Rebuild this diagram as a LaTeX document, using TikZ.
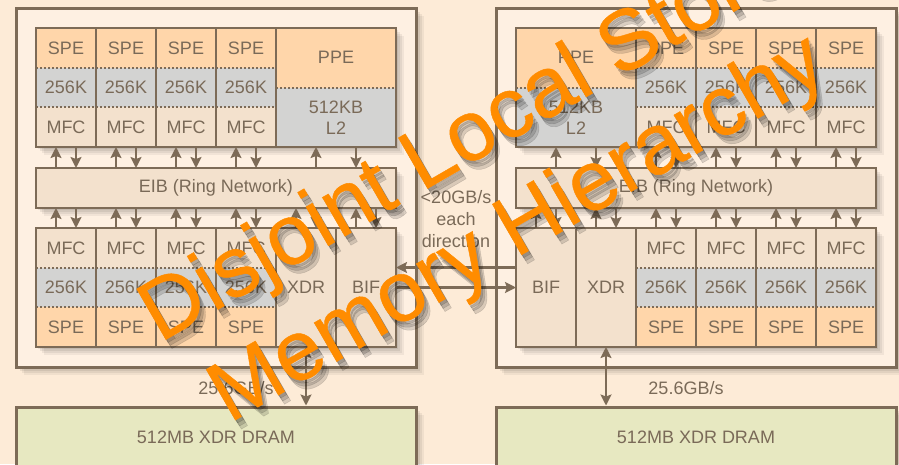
\documentclass[tikz,border=0pt]{standalone}
\usepackage{fontspec}
\setmainfont{Liberation Sans}
\newfontfamily\stampface[FakeBold=0.5]{Liberation Sans}
\usetikzlibrary{arrows.meta,positioning,shadows}

\definecolor{bgpeach}{HTML}{FDEBD7}
\definecolor{chipfill}{HTML}{FEF0E2}
\definecolor{edge}{HTML}{7D6B57}
\definecolor{ink}{HTML}{7A6A58}
\definecolor{spefill}{HTML}{FFD6AA}
\definecolor{lsfill}{HTML}{D3D3D2}
\definecolor{mfcfill}{HTML}{F3E1CD}
\definecolor{dramfill}{HTML}{E7E8C1}
\definecolor{stamp}{HTML}{FF8C00}

\begin{document}
\begin{tikzpicture}[x=1pt,y=-1pt,>={Stealth[length=11pt,width=11pt,inset=2pt]},node distance=0pt]
  \tikzstyle{soft}=[general shadow={fill=black,opacity=.07,shadow xshift=2pt,shadow yshift=-2pt},
                    general shadow={fill=black,opacity=.07,shadow xshift=4pt,shadow yshift=-4pt},
                    general shadow={fill=black,opacity=.06,shadow xshift=6pt,shadow yshift=-6pt},
                    general shadow={fill=black,opacity=.05,shadow xshift=8pt,shadow yshift=-8pt}]
  \tikzstyle{chip}=[draw=edge,line width=3pt,fill=chipfill,minimum width=400pt,minimum height=359pt,soft]
  \tikzstyle{row}=[draw=edge,line width=2.5pt,fill=mfcfill,inner sep=0pt,outer sep=0pt,minimum width=360pt,soft]
  \tikzstyle{cell}=[inner sep=0pt,outer sep=0pt,minimum width=60pt,minimum height=39.67pt,align=center,text=ink,font=\fontsize{18}{21}\selectfont]
  \tikzstyle{spe}=[cell,fill=spefill]
  \tikzstyle{ls}=[cell,fill=lsfill]
  \tikzstyle{mfc}=[cell,fill=mfcfill]
  \tikzstyle{wall}=[draw=edge,line width=2.5pt]
  \tikzstyle{dots}=[draw=edge,line width=2pt,dash pattern=on 2pt off 2pt]
  \tikzstyle{link}=[draw=edge,line width=2.2pt]
  \tikzstyle{lbl}=[text=ink,font=\fontsize{18}{22}\selectfont,align=center]
  \tikzstyle{dram}=[draw=edge,line width=3pt,fill=dramfill,minimum width=400pt,minimum height=60pt,text=ink,font=\fontsize{18}{22}\selectfont,soft]
  \tikzstyle{stampfont}=[font=\stampface\fontsize{85}{100}\selectfont,rotate=30,anchor=base,inner sep=0pt]

  \useasboundingbox (0,0) rectangle (899,464);
  \clip (0,0) rectangle (899,464);
  \fill[bgpeach] (0,0) rectangle (899,464);

  % chips and memories
  \node[chip] (chipA) at (216,187.5) {};
  \node[chip] (chipB) at (696,187.5) {};
  \node[dram] (dramA) at (216,437) {512MB XDR DRAM};
  \node[dram] (dramB) at (696,437) {512MB XDR DRAM};

  % row frames
  \node[row,minimum height=119pt] (topA) at (216,87.5) {};
  \node[row,minimum height=40pt,text=ink,font=\fontsize{18}{22}\selectfont] (eibA) at (216,188) {EIB (Ring Network)};
  \node[row,minimum height=119pt] (botA) at (216,287.5) {};
  \node[row,minimum height=119pt] (topB) at (696,87.5) {};
  \node[row,minimum height=40pt,text=ink,font=\fontsize{18}{22}\selectfont] (eibB) at (696,188) {EIB (Ring Network)};
  \node[row,minimum height=119pt] (botB) at (696,287.5) {};

  % left chip, top row
  \node[spe,anchor=north west] (tspeA1) at (topA.north west) {SPE};
  \node[ls,below=of tspeA1] (tlsA1) {256K};
  \node[mfc,below=of tlsA1] (tmfcA1) {MFC};
  \foreach \i/\j in {1/2,2/3,3/4}{
    \node[spe,right=of tspeA\i] (tspeA\j) {SPE};
    \node[ls,below=of tspeA\j] (tlsA\j) {256K};
    \node[mfc,below=of tlsA\j] (tmfcA\j) {MFC};
  }
  \node[spe,minimum width=120pt,minimum height=59.5pt,anchor=north west] (ppeA) at (tspeA4.north east) {PPE};
  \node[ls,minimum width=120pt,minimum height=59.5pt,below=of ppeA] (ltwoA) {512KB\\L2};

  % left chip, bottom row
  \node[mfc,anchor=north west] (bmfcA1) at (botA.north west) {MFC};
  \node[ls,below=of bmfcA1] (blsA1) {256K};
  \node[spe,below=of blsA1] (bspeA1) {SPE};
  \foreach \i/\j in {1/2,2/3,3/4}{
    \node[mfc,right=of bmfcA\i] (bmfcA\j) {MFC};
    \node[ls,below=of bmfcA\j] (blsA\j) {256K};
    \node[spe,below=of blsA\j] (bspeA\j) {SPE};
  }
  \node[mfc,minimum height=119pt,anchor=north west] (xdrA) at (bmfcA4.north east) {XDR};
  \node[mfc,minimum height=119pt,right=of xdrA] (bifA) {BIF};

  % right chip, top row
  \node[spe,minimum width=120pt,minimum height=59.5pt,anchor=north west] (ppeB) at (topB.north west) {PPE};
  \node[ls,minimum width=120pt,minimum height=59.5pt,below=of ppeB] (ltwoB) {512KB\\L2};
  \node[spe,anchor=north west] (tspeB1) at (ppeB.north east) {SPE};
  \node[ls,below=of tspeB1] (tlsB1) {256K};
  \node[mfc,below=of tlsB1] (tmfcB1) {MFC};
  \foreach \i/\j in {1/2,2/3,3/4}{
    \node[spe,right=of tspeB\i] (tspeB\j) {SPE};
    \node[ls,below=of tspeB\j] (tlsB\j) {256K};
    \node[mfc,below=of tlsB\j] (tmfcB\j) {MFC};
  }

  % right chip, bottom row
  \node[mfc,minimum height=119pt,anchor=north west] (bifB) at (botB.north west) {BIF};
  \node[mfc,minimum height=119pt,right=of bifB] (xdrB) {XDR};
  \node[mfc,anchor=north west] (bmfcB1) at (xdrB.north east) {MFC};
  \node[ls,below=of bmfcB1] (blsB1) {256K};
  \node[spe,below=of blsB1] (bspeB1) {SPE};
  \foreach \i/\j in {1/2,2/3,3/4}{
    \node[mfc,right=of bmfcB\i] (bmfcB\j) {MFC};
    \node[ls,below=of bmfcB\j] (blsB\j) {256K};
    \node[spe,below=of blsB\j] (bspeB\j) {SPE};
  }

  % dotted splits and walls
  \foreach \n in {tspeA1,tspeA2,tspeA3,tspeA4,tlsA1,tlsA2,tlsA3,tlsA4,ppeA,
                  bmfcA1,bmfcA2,bmfcA3,bmfcA4,blsA1,blsA2,blsA3,blsA4,
                  tspeB1,tspeB2,tspeB3,tspeB4,tlsB1,tlsB2,tlsB3,tlsB4,ppeB,
                  bmfcB1,bmfcB2,bmfcB3,bmfcB4,blsB1,blsB2,blsB3,blsB4}
    \draw[dots] (\n.south west) -- (\n.south east);
  \foreach \n/\r in {tspeA1/topA,tspeA2/topA,tspeA3/topA,tspeA4/topA,
                     bmfcA1/botA,bmfcA2/botA,bmfcA3/botA,bmfcA4/botA,xdrA/botA,
                     ppeB/topB,tspeB1/topB,tspeB2/topB,tspeB3/topB,
                     bifB/botB,xdrB/botB,bmfcB1/botB,bmfcB2/botB,bmfcB3/botB}
    \draw[wall] (\n.north east) -- (\n.north east |- \r.south);
  \foreach \r in {topA,botA,topB,botB}
    \draw[wall] (\r.north west) rectangle (\r.south east);

  % top rows <-> EIB
  \foreach \n/\e/\d in {tmfcA1/eibA/10,tmfcA2/eibA/10,tmfcA3/eibA/10,tmfcA4/eibA/10,ltwoA/eibA/20,
                        ltwoB/eibB/20,tmfcB1/eibB/10,tmfcB2/eibB/10,tmfcB3/eibB/10,tmfcB4/eibB/10}{
    \draw[link,->] ([xshift=-\d pt]\n.south |- \e.north) -- ([xshift=-\d pt]\n.south);
    \draw[link,->] ([xshift=\d pt]\n.south) -- ([xshift=\d pt]\n.south |- \e.north);
  }
  % EIB <-> bottom rows
  \foreach \n/\e in {bmfcA1/eibA,bmfcA2/eibA,bmfcA3/eibA,bmfcA4/eibA,xdrA/eibA,bifA/eibA,
                     bifB/eibB,xdrB/eibB,bmfcB1/eibB,bmfcB2/eibB,bmfcB3/eibB,bmfcB4/eibB}{
    \draw[link,->] ([xshift=-10pt]\n.north) -- ([xshift=-10pt]\n.north |- \e.south);
    \draw[link,->] ([xshift=10pt]\n.north |- \e.south) -- ([xshift=10pt]\n.north);
  }

  % memory and chip links
  \draw[link,<->] (xdrA.south) -- (xdrA.south |- dramA.north);
  \node[lbl] (bwA) at (236,388) {25.6GB/s};
  \draw[link,<->] (xdrB.south) -- (xdrB.south |- dramB.north);
  \node[lbl] (bwB) at (686,388) {25.6GB/s};
  \draw[link,->] ([yshift=20pt]bifB.west) -- ([yshift=20pt]bifA.east);
  \draw[link,->] (bifA.east) -- (bifB.west);
  \node[lbl] (bwIO) at (456,219) {<20GB/s\\each\\direction};

  % stamp
  \foreach \s in {1,2,3}{
    \node[stampfont,text=black,opacity=.14] (stampAs\s) at ({477+2*\s},{160+3*\s}) {Disjoint Local Store};
    \node[stampfont,text=black,opacity=.14] (stampBs\s) at ({530+2*\s},{250+3*\s}) {Memory Hierarchy};
  }
  \node[stampfont,text=stamp] (stampA) at (477,160) {Disjoint Local Store};
  \node[stampfont,text=stamp] (stampB) at (530,250) {Memory Hierarchy};
\end{tikzpicture}
\end{document}
